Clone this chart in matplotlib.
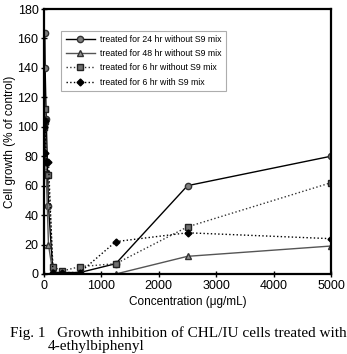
import matplotlib
matplotlib.use('Agg')
import matplotlib.pyplot as plt

plt.rcParams['font.family'] = ['Liberation Sans', 'DejaVu Sans']

# concentrations (ug/mL) and growth (% of control) per treatment
conc = [0, 9.8, 19.5, 39, 78, 156, 313, 625, 1250, 2500, 5000]
g24 = [100, 164, 140, 105, 46, 1, 1, 1, 7, 60, 80]
g48 = [100, 105, 104, 68, 20, 0, 0, 0, 0, 12, 19]
g6 = [100, 112, 104, 68, 67, 5, 2, 5, 7, 32, 62]
g6s9 = [100, 82, 104, 76, 76, 1, 1, 1, 22, 28, 24]

labels = ['treated for 24 hr without S9 mix',
          'treated for 48 hr without S9 mix',
          'treated for 6 hr without S9 mix',
          'treated for 6 hr with S9 mix']

fig = plt.figure(figsize=(3.47, 3.54), dpi=100)
ax = fig.add_axes([44/347, 1 - 274/354, 287/347, 265/354])

ax.plot(conc, g24, '-', color='black', lw=1, marker='o', ms=4.5,
        mfc='#808080', mec='#333333', label=labels[0])
ax.plot(conc, g48, '-', color='#555555', lw=1, marker='^', ms=4.5,
        mfc='#909090', mec='#333333', label=labels[1])
ax.plot(conc, g6, ':', color='#333333', lw=1, marker='s', ms=4.5,
        mfc='#707070', mec='#222222', label=labels[2])
ax.plot(conc, g6s9, ':', color='black', lw=1, marker='D', ms=3.5,
        mfc='black', mec='black', label=labels[3])

ax.set_xlim(0, 5000)
ax.set_ylim(0, 180)
ax.set_xticks(range(0, 5001, 1000))
ax.set_yticks(range(0, 181, 20))
for s in ax.spines.values():
    s.set_linewidth(1.6)
ax.tick_params(direction='inout', length=4, width=1, labelsize=9, pad=2)
ax.set_xlabel('Concentration (\u03bcg/mL)', fontsize=8.5, labelpad=3)
ax.set_ylabel('Cell growth (% of control)', fontsize=8.5, labelpad=1)

leg = ax.legend(loc='upper left', bbox_to_anchor=(0.045, 0.935), fontsize=6.3,
                frameon=True, fancybox=False, edgecolor='#999999',
                handlelength=3.3, borderpad=0.5, labelspacing=0.6,
                handletextpad=0.6)
leg.get_frame().set_linewidth(0.8)

fig.text(10/347, 1 - 326/354, 'Fig. 1   Growth inhibition of CHL/IU cells treated with',
         family='Liberation Serif', fontsize=11, va='top')
fig.text(48/347, 1 - 340/354, '4-ethylbiphenyl', family='Liberation Serif',
         fontsize=11, va='top')

fig.savefig('out.png', dpi=100)
